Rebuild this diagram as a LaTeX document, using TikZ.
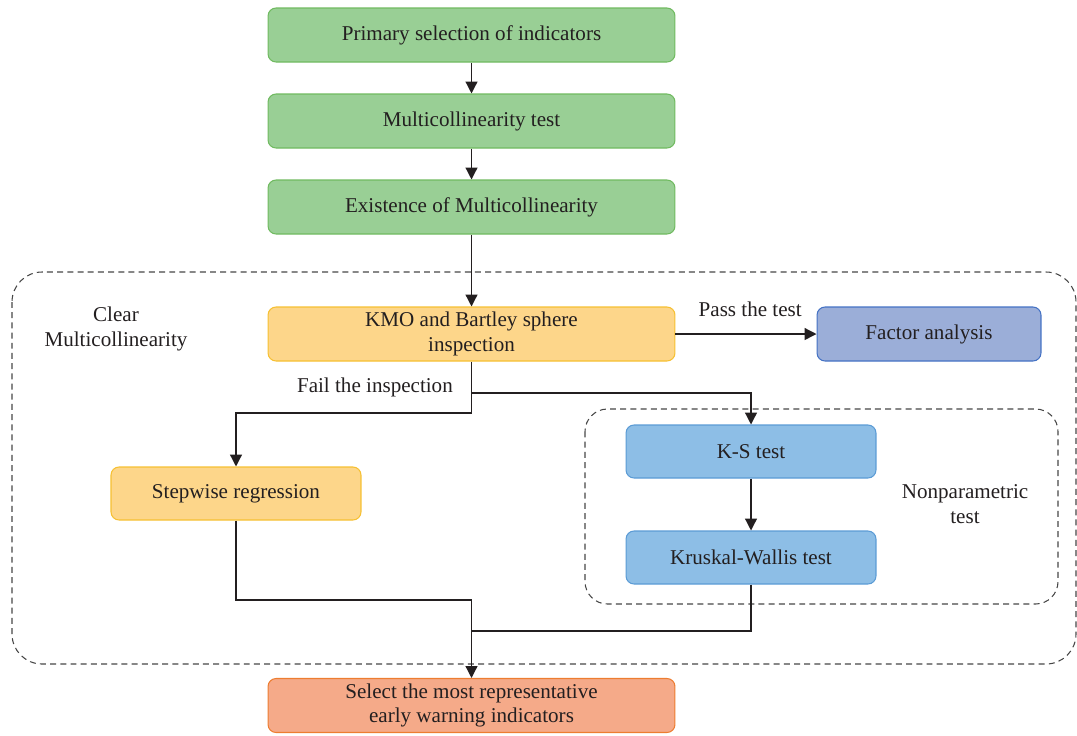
\documentclass[tikz,border=0pt]{standalone}
\usepackage{fontspec}
\setmainfont{Liberation Serif}
\usepackage{tikz}
\usetikzlibrary{positioning,arrows.meta}

\definecolor{greenfill}{RGB}{153,207,149}
\definecolor{greenline}{RGB}{112,186,96}
\definecolor{yellowfill}{RGB}{253,214,138}
\definecolor{yellowline}{RGB}{246,192,50}
\definecolor{purplefill}{RGB}{155,174,216}
\definecolor{purpleline}{RGB}{68,114,196}
\definecolor{bluefill}{RGB}{141,190,230}
\definecolor{blueline}{RGB}{91,155,213}
\definecolor{orangefill}{RGB}{245,170,137}
\definecolor{orangeline}{RGB}{237,125,49}
\definecolor{textgray}{RGB}{35,31,32}
\definecolor{dashgray}{RGB}{70,70,70}

\tikzset{
  box/.style={draw, rounded corners=0.16cm, line width=0.6pt, align=center,
    text=textgray, font=\fontsize{12}{14}\selectfont, inner sep=2pt},
  widebox/.style={box, minimum width=8.14cm, minimum height=1.08cm},
  smallbox/.style={box, minimum width=5cm, minimum height=1.06cm},
  link/.style={draw=textgray, line width=0.75pt},
  tip/.style={link, -{Triangle[length=6.8pt,width=6.8pt]}},
  label/.style={text=textgray, font=\fontsize{12}{14}\selectfont, align=center},
  group/.style={draw=dashgray, dash pattern=on 3.4pt off 2.4pt, line width=0.6pt}
}

\begin{document}
\begin{tikzpicture}[x=0.02cm, y=-0.02cm]
\useasboundingbox (0,0) rectangle (1077,735);
% dashed groups
\draw[group, rounded corners=0.6cm] (12,272) rectangle (1076,664);
\draw[group, rounded corners=0.45cm] (585,409) rectangle (1058,604);
\node[label] (label_clear) at (116,329) {Clear\\Multicollinearity};
\node[label] (label_nonpar) at (965,504) {Nonparametric\\test};
% boxes
\node[widebox, fill=greenfill, draw=greenline] (node_primary) at (471.5,35) {Primary selection of indicators};
\node[widebox, fill=greenfill, draw=greenline] (node_test) at (471.5,121) {Multicollinearity test};
\node[widebox, fill=greenfill, draw=greenline] (node_exist) at (471.5,207) {Existence of Multicollinearity};
\node[widebox, fill=yellowfill, draw=yellowline] (node_kmo) at (471.5,334) {KMO and Bartley sphere\\inspection};
\node[box, fill=purplefill, draw=purpleline, minimum width=4.48cm, minimum height=1.08cm] (node_factor) at (929,334) {Factor analysis};
\node[smallbox, fill=yellowfill, draw=yellowline] (node_step) at (236,493.5) {Stepwise regression};
\node[smallbox, fill=bluefill, draw=blueline] (node_ks) at (751,451.5) {K-S test};
\node[smallbox, fill=bluefill, draw=blueline] (node_kw) at (751,557.5) {Kruskal-Wallis test};
\node[widebox, fill=orangefill, draw=orangeline] (node_select) at (471.5,705.5) {Select the most representative\\early warning indicators};
% connectors
\draw[tip] (node_primary) -- (node_test);
\draw[tip] (node_test) -- (node_exist);
\draw[tip] (node_exist) -- (node_kmo);
\draw[tip] (node_kmo) -- node[label, above=6pt, pos=0.53] (label_pass) {Pass the test} (node_factor);
\coordinate (node_a) at (471.5,393);
\coordinate (node_b) at (471.5,413);
\coordinate (node_c) at (471.5,600);
\coordinate (node_d) at (471.5,631);
\draw[link] (node_kmo.south) -- (node_b);
\draw[tip] (node_b) -| (node_step.north);
\draw[tip] (node_a) -| (node_ks.north);
\node[label, anchor=east] (label_fail) at (459,387) {Fail the inspection};
\draw[tip] (node_ks) -- (node_kw);
\draw[link] (node_step.south) |- (node_c);
\draw[link] (node_kw.south) |- (node_d);
\draw[tip] (node_c) -- (node_select.north);
\end{tikzpicture}
\end{document}
